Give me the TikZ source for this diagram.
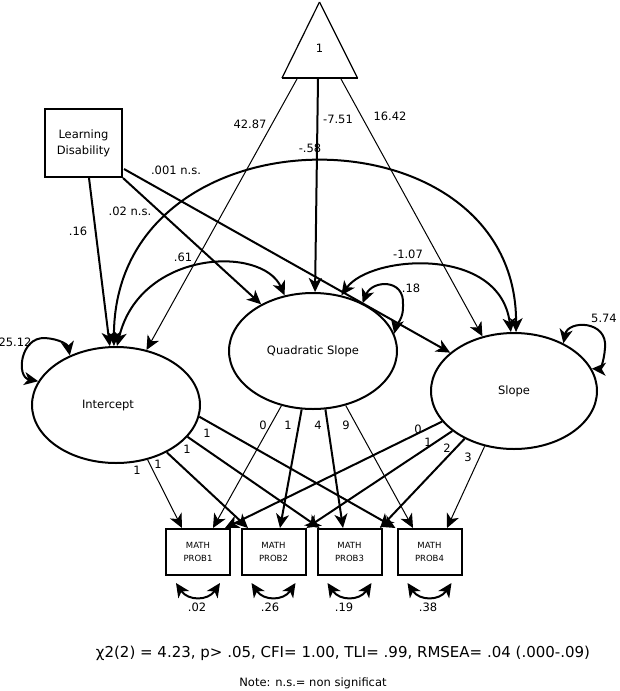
\documentclass[tikz,border=0pt]{standalone}
\usepackage{fontspec}
\setmainfont{DejaVu Sans}
\usetikzlibrary{arrows.meta,shapes.geometric,calc}
\begin{document}
\begin{tikzpicture}[x=1pt,y=-1pt,
  hd/.tip={Stealth[length=14pt,width=13pt,inset=4pt]},
  lat/.style={draw,ellipse,line width=2pt,inner sep=0pt,minimum width=168pt,minimum height=116pt,font=\fontsize{11.5}{13}\selectfont},
  obs/.style={draw,rectangle,line width=2pt,inner sep=0pt,minimum width=64pt,minimum height=46pt,align=center,font=\fontsize{8.5}{12.5}\selectfont},
  thk/.style={line width=2pt,-hd},
  thn/.style={line width=1pt,-hd},
  cov/.style={line width=2pt,hd-hd},
  lbl/.style={font=\fontsize{11.5}{13}\selectfont,inner sep=0pt},
]
\fill[white] (0,0) rectangle (619,691);
\useasboundingbox (0,0) rectangle (619,691);

% triangle (constant)
\draw[line width=1.2pt] (319.5,2) -- (282,78);
\draw[line width=1.2pt] (319.5,2) -- (357.5,78);
\draw[line width=2.2pt] (282,78) -- (357.5,78);
\node[lbl] (T) at (319.5,48) {1};
\coordinate (ta) at (297,79);
\coordinate (tb) at (318,79);
\coordinate (tc) at (341,79);

% nodes
\node[draw,rectangle,line width=2pt,inner sep=0pt,minimum width=77pt,minimum height=68pt,align=center,font=\fontsize{11.5}{16}\selectfont] (LD) at (83.5,143) {Learning\\Disability};
\node[lat] (I) at (116,405) {\hspace*{-16pt}Intercept};
\node[lat] (Q) at (313,351) {Quadratic Slope};
\node[lat,minimum width=166pt] (S) at (514,391) {Slope};
\node[obs] (P1) at (198,552) {MATH\\PROB1};
\node[obs] (P2) at (273.5,552) {MATH\\PROB2};
\node[obs] (P3) at (349.5,552) {MATH\\PROB3};
\node[obs] (P4) at (429.5,552) {MATH\\PROB4};

% means
\draw[thn] (ta) -- (I.61);
\draw[thk] (tb) -- (Q.88);
\draw[thn] (tc) -- (S.120);

% learning disability effects
\draw[thk] ([xshift=5.5pt]LD.south) -- (I.96);
\draw[thk] (LD.south east) -- (Q.138);
\draw[thk] ($(LD.south east)+(1,-9)$) -- (S.149);

% covariances
\draw[cov] (I.92) .. controls (113,103) and (517,103) .. (S.88);
\draw[cov] (I.89) .. controls (140,250) and (262,245) .. (Q.117);
\draw[cov] (Q.63) .. controls (370,255) and (500,245) .. (S.93);

% variances
\draw[cov] (I.163) .. controls (16,377) and (20,337) .. (45,338) .. controls (60,339) and (68,345) .. (I.133);
\draw[cov] (Q.44) .. controls (372,280) and (405,278) .. (403,305) .. controls (404,318) and (396,326) .. (Q.12);
\draw[cov] (S.44) .. controls (568,320) and (608,320) .. (605,348) .. controls (604,362) and (600,369) .. (S.16);

% loadings
\draw[thn] (I.-60) -- ([xshift=-16pt]P1.north);
\draw[thk] (I.-43) -- ([xshift=-25.5pt]P2.north);
\draw[thk] (I.-24) -- ([xshift=-30pt]P3.north);
\draw[thk] (I.-8) -- ([xshift=-34pt]P4.north);
\draw[thn] (Q.-120) -- ([xshift=15pt]P1.north);
\draw[thk] (Q.-101) -- ([xshift=6.5pt]P2.north);
\draw[thk] (Q.-78) -- ([xshift=-6.5pt]P3.north);
\draw[thn] (Q.-59) -- ([xshift=-16.5pt]P4.north);
\draw[thk] (S.-157) -- ([xshift=27pt]P1.north);
\draw[thk] (S.-147) -- (P2.north east);
\draw[thk] (S.-136) -- ([xshift=30.5pt]P3.north);
\draw[thn] (S.-118) -- ([xshift=17.5pt]P4.north);

% residuals
\foreach \p in {P1,P2,P3,P4}{
  \draw[cov] ($(\p.south)+(-22,7)$) .. controls ($(\p.south)+(-10,25)$) and ($(\p.south)+(10,25)$) .. ($(\p.south)+(22,7)$);
}

% labels
\node[lbl] (l1) at (250,124) {42.87};
\node[lbl] (l2) at (338,119) {-7.51};
\node[lbl] (l3) at (390,116) {16.42};
\node[lbl] (l4) at (310,148) {-.58};
\node[lbl] (l5) at (176,170) {.001 n.s.};
\node[lbl] (l6) at (130,211) {.02 n.s.};
\node[lbl] (l7) at (78,231) {.16};
\node[lbl] (l8) at (183,257) {.61};
\node[lbl] (l9) at (408,254) {-1.07};
\node[lbl] (l10) at (411,288) {.18};
\node[lbl] (l11) at (15,342) {25.12};
\node[lbl] (l12) at (604,318) {5.74};
\node[lbl] (a1) at (137,470) {1};
\node[lbl] (a2) at (158,464) {1};
\node[lbl] (a3) at (187,449) {1};
\node[lbl] (a4) at (207,433) {1};
\node[lbl] (b1) at (263,425) {0};
\node[lbl] (b2) at (288,425) {1};
\node[lbl] (b3) at (318,425) {4};
\node[lbl] (b4) at (346,425) {9};
\node[lbl] (c1) at (418,429) {0};
\node[lbl] (c2) at (428,442) {1};
\node[lbl] (c3) at (447,448) {2};
\node[lbl] (c4) at (468,457) {3};
\node[lbl] (r1) at (197,607) {.02};
\node[lbl] (r2) at (270,607) {.26};
\node[lbl] (r3) at (344,607) {.19};
\node[lbl] (r4) at (428,607) {.38};
\node[inner sep=0pt,font=\fontsize{15}{18}\selectfont] (fit) at (343,653) {χ2(2) = 4.23, p> .05, CFI= 1.00, TLI= .99, RMSEA= .04 (.000-.09)};
\node[inner sep=0pt,font=\fontsize{11.5}{14}\selectfont] (note) at (313,683) {Note: n.s.= non significat};
\end{tikzpicture}
\end{document}
